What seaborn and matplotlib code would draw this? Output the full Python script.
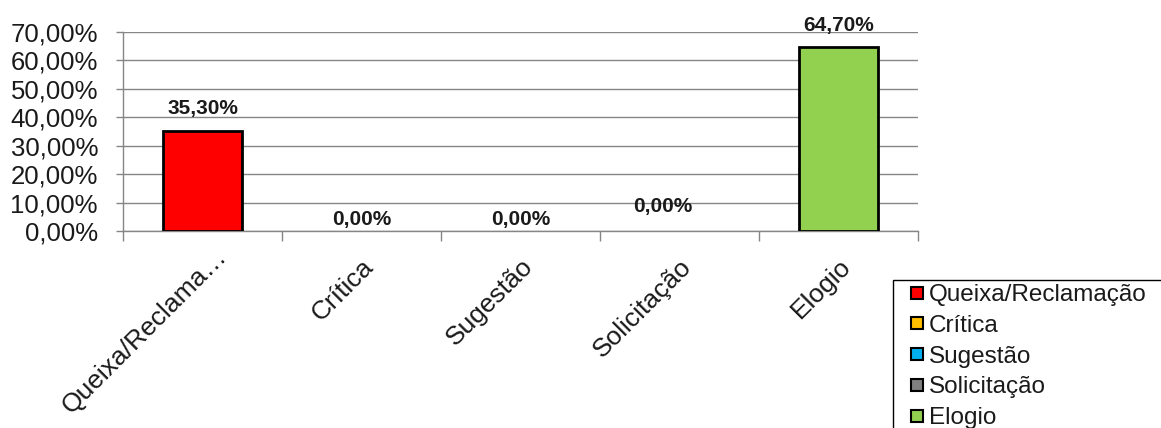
import matplotlib
matplotlib.use("Agg")
import matplotlib.pyplot as plt
import matplotlib.transforms as mtransforms
import seaborn as sns
import pandas as pd
from matplotlib.lines import Line2D
from matplotlib.patches import Rectangle
from matplotlib.ticker import FuncFormatter, FixedLocator

categories = ["Queixa/Reclamação", "Crítica", "Sugestão", "Solicitação", "Elogio"]
tick_labels = ["Queixa/Reclama…", "Crítica", "Sugestão", "Solicitação", "Elogio"]
values = [35.30, 0.00, 0.00, 0.00, 64.70]
colors = ["#FF0000", "#FFC000", "#00B0F0", "#808080", "#92D050"]
# label offsets (points) used by the original chart for the value labels
label_dx = [0, 0, 0, -12, 0]
label_dy = [9, 1.5, 1.5, 11, 9]

sns.set_theme(style="white")
plt.rcParams["font.family"] = ["Liberation Sans", "DejaVu Sans"]

df = pd.DataFrame({"cat": categories, "val": values})

fig = plt.figure(figsize=(11.61, 4.28), dpi=100)
ax = fig.add_axes([123/1161, 1-231/428, (918-123)/1161, (231-32)/428])

sns.barplot(data=df, x="cat", y="val", hue="cat", palette=colors, saturation=1,
            order=categories, hue_order=categories, width=0.5,
            edgecolor="black", linewidth=2, legend=False, ax=ax, zorder=3)
for p in ax.patches:
    if p.get_height() == 0:
        p.set_linewidth(0)

ax.set_ylim(0, 70)
ax.set_xlim(-0.5, 4.5)
ax.yaxis.set_major_locator(FixedLocator([0, 10, 20, 30, 40, 50, 60, 70]))
ax.yaxis.set_major_formatter(FuncFormatter(lambda v, p: f"{v:.2f}".replace(".", ",") + "%"))
ax.grid(axis="y", color="#868686", linewidth=1, zorder=0)
ax.set_axisbelow(True)
for s in ["top", "right"]:
    ax.spines[s].set_visible(False)
for s in ["left", "bottom"]:
    ax.spines[s].set_color("#868686")
    ax.spines[s].set_linewidth(1)

ax.set_xlabel("")
ax.set_ylabel("")
ax.tick_params(axis="y", left=True, length=5, width=1, color="#868686",
               labelsize=18.5, pad=13, labelcolor="#1a1a1a")
ax.set_xticks(range(len(categories)))
ax.set_xticklabels(tick_labels, rotation=45, ha="right", rotation_mode="anchor",
                   fontsize=19, color="#1a1a1a")
ax.tick_params(axis="x", which="major", bottom=False, pad=11)
ax.set_xticks([i - 0.5 for i in range(len(categories) + 1)], minor=True)
ax.tick_params(axis="x", which="minor", bottom=True, length=7, width=1,
               color="#868686", direction="out")
# the truncated first label sits a little further out in the original
lbl0 = ax.get_xticklabels()[0]
lbl0.set_transform(lbl0.get_transform() +
                   mtransforms.ScaledTranslation(12/100, 10/100, fig.dpi_scale_trans))

for i, v in enumerate(values):
    ax.annotate(f"{v:.2f}".replace(".", ",") + "%", xy=(i, v),
                xytext=(label_dx[i], label_dy[i]), textcoords="offset points",
                ha="center", va="bottom", fontsize=15, fontweight="bold",
                color="#1a1a1a", annotation_clip=False)

handles = [Line2D([], [], linestyle="none", marker="s", markersize=9,
                  markerfacecolor=c, markeredgecolor="black", markeredgewidth=1.5)
           for c in colors]
leg = fig.legend(handles, categories, loc="upper left",
                 bbox_to_anchor=(908/1161, 1-284/428), fontsize=17.5,
                 frameon=False, handlelength=0.7, handletextpad=0.15,
                 labelspacing=0.36, borderpad=0.0, borderaxespad=0)
for t in leg.get_texts():
    t.set_color("#1a1a1a")
fig.patches.append(Rectangle((893/1161, -0.01), 0.5, (428-280)/428 + 0.01,
                             transform=fig.transFigure, fill=False,
                             edgecolor="black", linewidth=1))

fig.savefig("out.png", dpi=100)
